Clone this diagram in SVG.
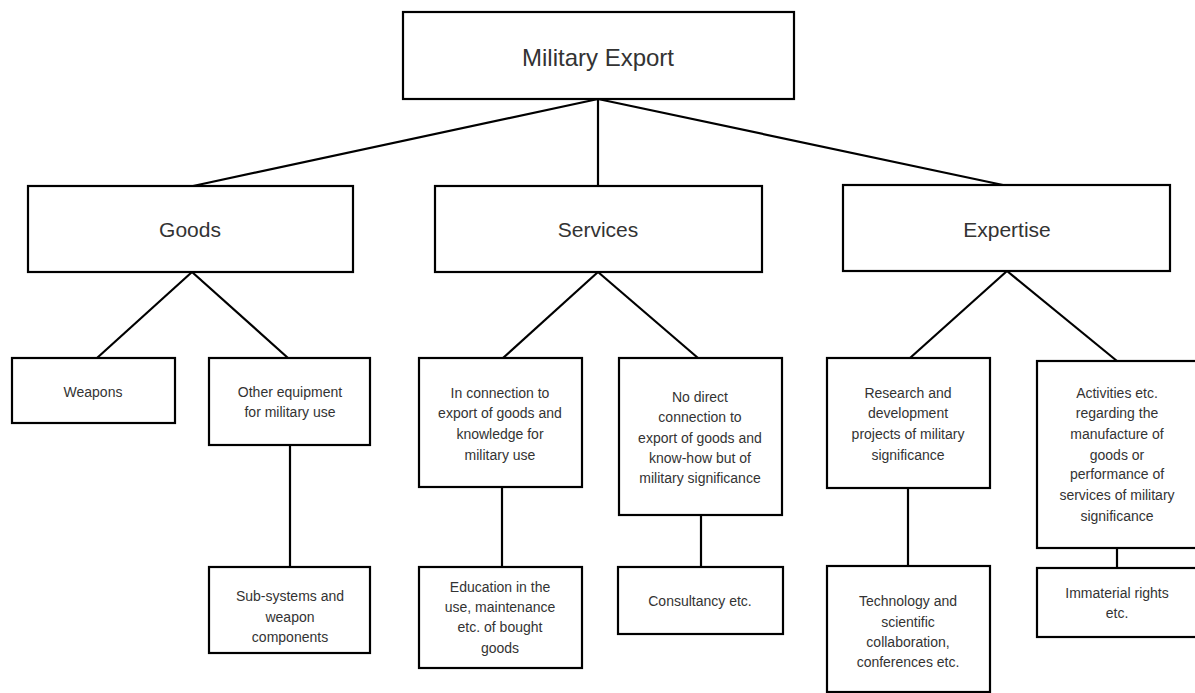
<svg xmlns="http://www.w3.org/2000/svg" width="1195" height="693" viewBox="0 0 1195 693">
<style>
.box{fill:#fff;stroke:#000;stroke-width:2.2}
.ln{stroke:#000;stroke-width:2.2;fill:none}
text{font-family:"Liberation Sans",Arial,sans-serif;fill:#333;text-anchor:middle;dominant-baseline:central}
.t1{font-size:24px}
.t2{font-size:21px}
.t3{font-size:14px}
</style>
<rect width="1195" height="693" fill="#fff"/>
<g id="connectors">
<line class="ln" x1="598" y1="99" x2="193" y2="186"/>
<line class="ln" x1="598" y1="99" x2="598" y2="186"/>
<line class="ln" x1="598" y1="99" x2="1003" y2="185"/>
<line class="ln" x1="192" y1="272" x2="97" y2="358"/>
<line class="ln" x1="192" y1="272" x2="288" y2="358"/>
<line class="ln" x1="290" y1="445" x2="290" y2="567"/>
<line class="ln" x1="598" y1="272" x2="503" y2="358"/>
<line class="ln" x1="598" y1="272" x2="698" y2="358"/>
<line class="ln" x1="502" y1="487" x2="502" y2="567"/>
<line class="ln" x1="701" y1="515" x2="701" y2="567"/>
<line class="ln" x1="1007" y1="271" x2="910" y2="358"/>
<line class="ln" x1="1007" y1="271" x2="1117" y2="361"/>
<line class="ln" x1="908" y1="488" x2="908" y2="566"/>
<line class="ln" x1="1117" y1="548" x2="1117" y2="568"/>
</g>
<g id="military-export">
<rect class="box" x="403" y="12" width="391" height="87"/>
<text class="t1" x="598" y="57">Military Export</text>
</g>
<g id="goods">
<rect class="box" x="28" y="186" width="325" height="86"/>
<text class="t2" x="190" y="229">Goods</text>
</g>
<g id="services">
<rect class="box" x="435" y="186" width="327" height="86"/>
<text class="t2" x="598" y="229">Services</text>
</g>
<g id="expertise">
<rect class="box" x="843" y="185" width="327" height="86"/>
<text class="t2" x="1007" y="229">Expertise</text>
</g>
<g id="weapons">
<rect class="box" x="12" y="358" width="163" height="65"/>
<text class="t3" x="93" y="392">Weapons</text>
</g>
<g id="other-equipment">
<rect class="box" x="209" y="358" width="161" height="87"/>
<text class="t3" x="290" y="392">Other equipment</text>
<text class="t3" x="290" y="412">for military use</text>
</g>
<g id="sub-systems">
<rect class="box" x="209" y="567" width="161" height="86"/>
<text class="t3" x="290" y="596">Sub-systems and</text>
<text class="t3" x="290" y="617">weapon</text>
<text class="t3" x="290" y="637">components</text>
</g>
<g id="in-connection">
<rect class="box" x="419" y="358" width="163" height="129"/>
<text class="t3" x="500" y="393">In connection to</text>
<text class="t3" x="500" y="413">export of goods and</text>
<text class="t3" x="500" y="434">knowledge for</text>
<text class="t3" x="500" y="455">military use</text>
</g>
<g id="no-direct">
<rect class="box" x="619" y="358" width="163" height="157"/>
<text class="t3" x="700" y="397">No direct</text>
<text class="t3" x="700" y="417">connection to</text>
<text class="t3" x="700" y="438">export of goods and</text>
<text class="t3" x="700" y="458">know-how but of</text>
<text class="t3" x="700" y="478">military significance</text>
</g>
<g id="education">
<rect class="box" x="419" y="567" width="163" height="101"/>
<text class="t3" x="500" y="587">Education in the</text>
<text class="t3" x="500" y="607">use, maintenance</text>
<text class="t3" x="500" y="627">etc.  of bought</text>
<text class="t3" x="500" y="648">goods</text>
</g>
<g id="consultancy">
<rect class="box" x="618" y="567" width="165" height="67"/>
<text class="t3" x="700" y="601">Consultancy etc.</text>
</g>
<g id="research">
<rect class="box" x="827" y="358" width="163" height="130"/>
<text class="t3" x="908" y="393">Research and</text>
<text class="t3" x="908" y="413">development</text>
<text class="t3" x="908" y="434">projects of military</text>
<text class="t3" x="908" y="455">significance</text>
</g>
<g id="activities">
<rect class="box" x="1037" y="361" width="170" height="187"/>
<text class="t3" x="1117" y="393">Activities etc.</text>
<text class="t3" x="1117" y="413">regarding the</text>
<text class="t3" x="1117" y="434">manufacture of</text>
<text class="t3" x="1117" y="455">goods or</text>
<text class="t3" x="1117" y="474">performance of</text>
<text class="t3" x="1117" y="495">services of military</text>
<text class="t3" x="1117" y="516">significance</text>
</g>
<g id="technology">
<rect class="box" x="827" y="566" width="163" height="126"/>
<text class="t3" x="908" y="601">Technology and</text>
<text class="t3" x="908" y="622">scientific</text>
<text class="t3" x="908" y="642">collaboration,</text>
<text class="t3" x="908" y="662">conferences etc.</text>
</g>
<g id="immaterial">
<rect class="box" x="1037" y="568" width="170" height="69"/>
<text class="t3" x="1117" y="593">Immaterial rights</text>
<text class="t3" x="1117" y="613">etc.</text>
</g>
</svg>
